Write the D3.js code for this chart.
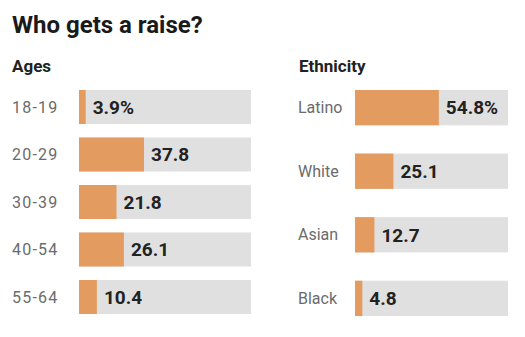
<!DOCTYPE html>
<html lang="en">
<head>
    <meta charset="UTF-8">
    <title>Who gets a raise?</title>
    <style>
        body { margin: 0; background: #fff; }
        text { font-family: Roboto, "Liberation Sans", sans-serif; }
        .title { font-weight: bold; font-size: 24px; fill: #1a1a1a; }
        .head { font-weight: bold; font-size: 17px; fill: #222; }
        .cat { font-size: 16px; fill: #6b6b6b; }
        .val { font-weight: bold; font-size: 19px; fill: #222; }
    </style>
</head>
<body>
    <script src="https://d3js.org/d3.v7.min.js"></script>
    <script>
        const ageCats = ['18-19', '20-29', '30-39', '40-54', '55-64'];
        const ageValues = [3.9, 37.8, 21.8, 26.1, 10.4];
        const ageLabels = ['3.9%', '37.8', '21.8', '26.1', '10.4'];

        const ethCats = ['Latino', 'White', 'Asian', 'Black'];
        const ethValues = [54.8, 25.1, 12.7, 4.8];
        const ethLabels = ['54.8%', '25.1', '12.7', '4.8'];

        const width = 525;
        const height = 337;
        const orange = '#e39b5f';
        const grey = '#e0e0e0';

        const svg = d3.select('body')
            .append('svg')
            .attr('width', width)
            .attr('height', height);

        svg.append('text')
            .attr('class', 'title')
            .attr('x', 12)
            .attr('y', 33)
            .text('Who gets a raise?');

        // one panel of bars
        function panel(opts) {
            const data = opts.cats.map((c, i) => ({ cat: c, value: opts.values[i], label: opts.labels[i] }));

            const x = d3.scaleLinear()
                .domain([0, 100])
                .range(opts.xRange);

            const y = d3.scaleBand()
                .domain(opts.cats)
                .range(opts.yRange)
                .paddingInner(opts.pad)
                .paddingOuter(0);

            const g = svg.append('g');

            g.append('text')
                .attr('class', 'head')
                .attr('x', opts.headX)
                .attr('y', 72)
                .text(opts.title);

            const row = g.selectAll('.row')
                .data(data)
                .enter()
                .append('g')
                .attr('class', 'row');

            row.append('rect')
                .attr('x', x(0))
                .attr('y', (d) => y(d.cat))
                .attr('width', x(100) - x(0))
                .attr('height', y.bandwidth())
                .attr('fill', grey);

            row.append('rect')
                .attr('x', x(0))
                .attr('y', (d) => y(d.cat))
                .attr('width', (d) => x(d.value) - x(0))
                .attr('height', y.bandwidth())
                .attr('fill', orange);

            row.append('text')
                .attr('class', 'cat')
                .attr('x', opts.catX)
                .attr('y', (d) => y(d.cat) + y.bandwidth() / 2)
                .attr('dy', '0.35em')
                .style('letter-spacing', opts.spacing)
                .text((d) => d.cat);

            row.append('text')
                .attr('class', 'val')
                .attr('x', (d) => x(d.value) + 7)
                .attr('y', (d) => y(d.cat) + y.bandwidth() / 2)
                .attr('dy', '0.36em')
                .text((d) => d.label);
        }

        panel({
            title: 'Ages',
            cats: ageCats,
            values: ageValues,
            labels: ageLabels,
            xRange: [79, 251],
            yRange: [90, 314],
            pad: 0.284,
            headX: 12,
            catX: 12,
            spacing: '1.2px'
        });

        panel({
            title: 'Ethnicity',
            cats: ethCats,
            values: ethValues,
            labels: ethLabels,
            xRange: [355, 508],
            yRange: [90, 316],
            pad: 0.445,
            headX: 299,
            catX: 298,
            spacing: '0px'
        });
    </script>
</body>
</html>
